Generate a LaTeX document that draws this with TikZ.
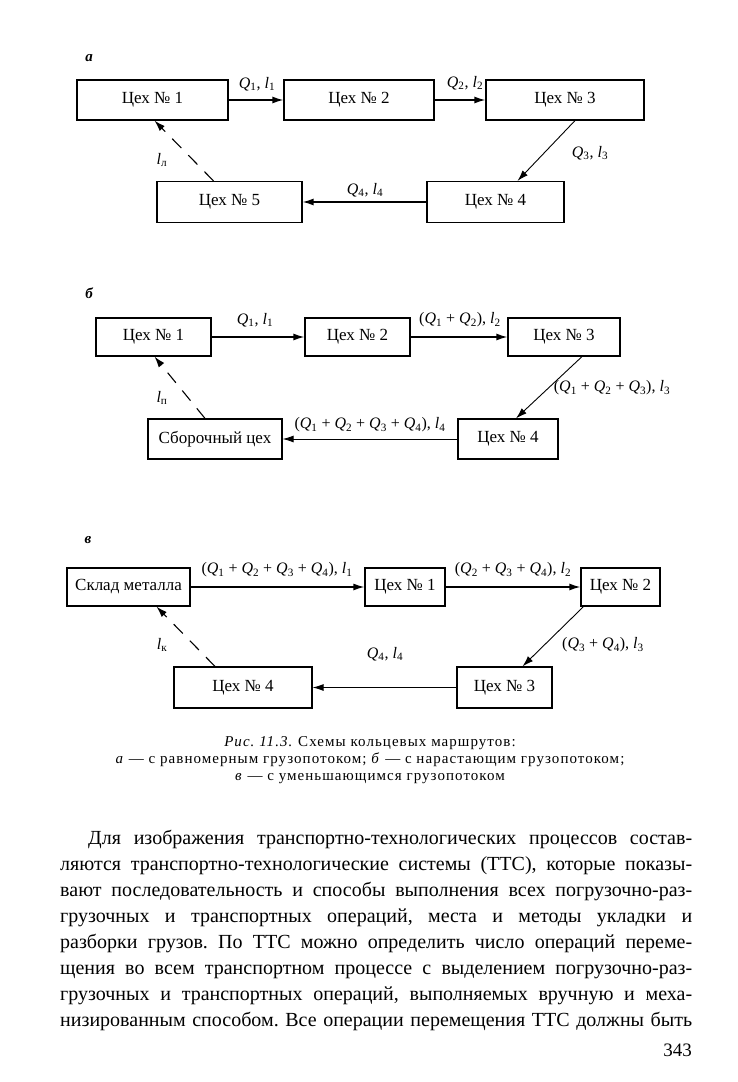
\documentclass[tikz,border=0pt]{standalone}
\usepackage{fontspec}
\setmainfont{Liberation Serif}
\usetikzlibrary{arrows.meta,positioning}
\frenchspacing

\begin{document}
\begin{tikzpicture}[line cap=butt,line join=miter,x=1pt,y=-1pt,scale=1]
\tikzset{>={Latex[length=11pt,width=7pt]}}
\tikzset{
  shop/.style={draw, line width=1.2pt, inner sep=0pt, font=\fontsize{17}{18}\selectfont},
  flow/.style={->, line width=1.4pt},
  thinflow/.style={->, line width=0.9pt},
  empty/.style={->, line width=1.1pt, dash pattern=on 13pt off 10pt},
  lab/.style={inner sep=0pt, font=\fontsize{16}{18}\selectfont},
  part/.style={inner sep=0pt, font=\fontsize{15}{18}\selectfont\itshape\bfseries}
}
\def\Qi#1{\textit{Q}\textsubscript{#1}}
\def\li#1{\textit{l}\textsubscript{#1}}
\def\fullline#1{\makebox[632pt][s]{#1}}

\useasboundingbox (0,0) rectangle (738,1082);
\fill[white] (0,0) rectangle (738,1082);

% a
\node[part] (pa) at (89,58) {а};
\node[shop, minimum width=151pt, minimum height=40pt] (a1) at (152.5,100) {Цех № 1};
\node[shop, minimum width=150pt, minimum height=40pt] (a2) at (359,100) {Цех № 2};
\node[shop, minimum width=158pt, minimum height=40pt] (a3) at (565,100) {Цех № 3};
\node[shop, minimum width=137pt, minimum height=41pt] (a4) at (495.5,202) {Цех № 4};
\node[shop, minimum width=145pt, minimum height=41pt] (a5) at (229.5,202) {Цех № 5};

\draw[flow] (a1) -- (a2);
\draw[flow] (a2) -- (a3);
\draw[thinflow] ([xshift=10pt]a3.south) -- ([xshift=22pt]a4.north);
\draw[flow] (a4) -- (a5);
\draw[empty] ([xshift=-16pt]a5.north) -- ([xshift=2pt]a1.south);

\node[lab] (qa1) at (257,84) {\Qi{1}, \li{1}};
\node[lab] (qa2) at (465,83) {\Qi{2}, \li{2}};
\node[lab] (qa3) at (590,153) {\Qi{3}, \li{3}};
\node[lab] (qa4) at (365,190) {\Qi{4}, \li{4}};
\node[lab] (la) at (162,160) {\li{л}};

% b
\node[part] (pb) at (89,293) {б};
\node[shop, minimum width=115pt, minimum height=38pt] (b1) at (153.5,337) {Цех № 1};
\node[shop, minimum width=105pt, minimum height=38pt] (b2) at (357.5,337) {Цех № 2};
\node[shop, minimum width=112pt, minimum height=38pt] (b3) at (564,337) {Цех № 3};
\node[shop, minimum width=100pt, minimum height=40pt] (b4) at (508,439) {Цех № 4};
\node[shop, minimum width=134pt, minimum height=40pt] (bs) at (215,439) {Сборочный цех};

\draw[flow] (b1) -- (b2);
\draw[flow] (b2) -- (b3);
\draw[thinflow] ([xshift=18pt]b3.south) -- ([xshift=8pt]b4.north);
\draw[thinflow] (b4) -- (bs);
\draw[empty] ([xshift=-10pt]bs.north) -- ([xshift=1pt]b1.south);

\node[lab] (qb1) at (255,320) {\Qi{1}, \li{1}};
\node[lab] (qb2) at (460,320) {(\Qi{1} + \Qi{2}), \li{2}};
\node[lab] (qb3) at (612,388) {(\Qi{1} + \Qi{2} + \Qi{3}), \li{3}};
\node[lab] (qb4) at (370,425) {(\Qi{1} + \Qi{2} + \Qi{3} + \Qi{4}), \li{4}};
\node[lab] (lb) at (162,398) {\li{п}};

% c
\node[part] (pc) at (88,540) {в};
\node[shop, minimum width=123pt, minimum height=38pt] (c0) at (128.5,587) {Склад металла};
\node[shop, minimum width=80pt, minimum height=38pt] (c1) at (405,587) {Цех № 1};
\node[shop, minimum width=79pt, minimum height=38pt] (c2) at (620.5,587) {Цех № 2};
\node[shop, minimum width=95pt, minimum height=41pt] (c3) at (504.5,687.5) {Цех № 3};
\node[shop, minimum width=138pt, minimum height=41pt] (c4) at (243,687.5) {Цех № 4};

\draw[flow] (c0) -- (c1);
\draw[flow] (c1) -- (c2);
\draw[thinflow] ([xshift=-37pt]c2.south) -- ([xshift=18pt]c3.north);
\draw[thinflow] (c3) -- (c4);
\draw[empty] ([xshift=-28pt]c4.north) -- ([xshift=28pt]c0.south);

\node[lab] (qc1) at (277,570) {(\Qi{1} + \Qi{2} + \Qi{3} + \Qi{4}), \li{1}};
\node[lab] (qc2) at (513,570) {(\Qi{2} + \Qi{3} + \Qi{4}), \li{2}};
\node[lab] (qc3) at (603,645) {(\Qi{3} + \Qi{4}), \li{3}};
\node[lab] (qc4) at (385,654) {\Qi{4}, \li{4}};
\node[lab] (lc) at (162,645) {\li{к}};

% caption
\node[inner sep=0pt, align=center, font=\fontsize{15}{17}\selectfont\addfontfeature{LetterSpace=7}] (cap) at (370,760)
  {\textit{Рис. 11.3.} Схемы кольцевых маршрутов:\\
   \textit{а} — с равномерным грузопотоком; \textit{б} — с нарастающим грузопотоком;\\
   \textit{в} — с уменьшающимся грузопотоком};

% text
\node[inner sep=0pt, anchor=north west, align=left, font=\fontsize{20}{26}\selectfont] (body) at (60,830)
  {\fullline{\hspace*{28pt}Для изображения транспортно-технологических процессов состав-}\\
   \fullline{ляются транспортно-технологические системы (ТТС), которые показы-}\\
   \fullline{вают последовательность и способы выполнения всех погрузочно-раз-}\\
   \fullline{грузочных и транспортных операций, места и методы укладки и}\\
   \fullline{разборки грузов. По ТТС можно определить число операций переме-}\\
   \fullline{щения во всем транспортном процессе с выделением погрузочно-раз-}\\
   \fullline{грузочных и транспортных операций, выполняемых вручную и меха-}\\
   \fullline{низированным способом. Все операции перемещения ТТС должны быть}};

\node[inner sep=0pt, anchor=east, font=\fontsize{19}{22}\selectfont] (page) at (692,1050) {343};

\end{tikzpicture}
\end{document}
